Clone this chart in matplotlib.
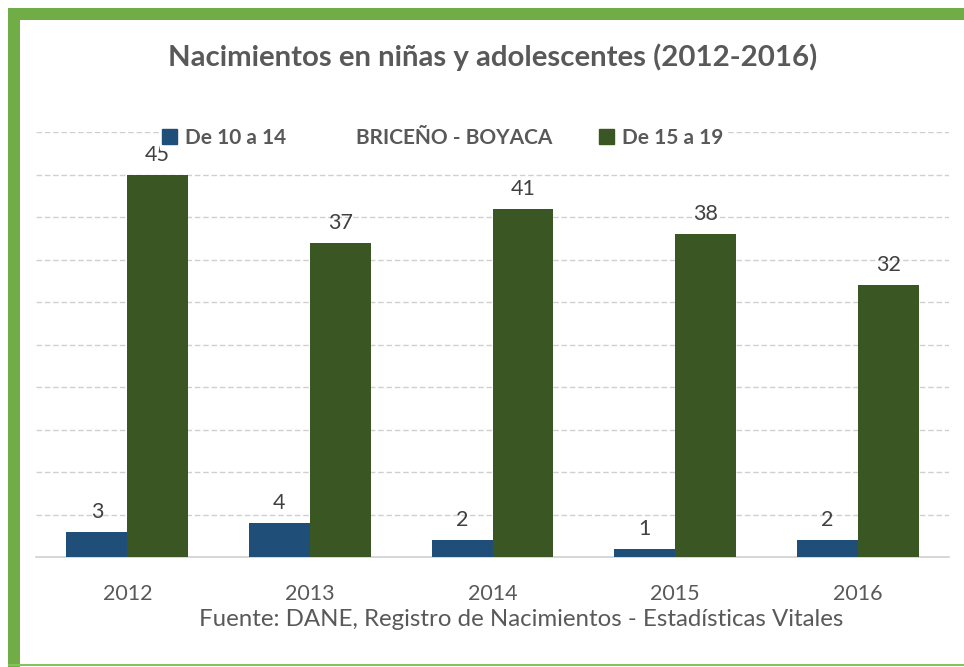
import matplotlib
matplotlib.use("Agg")
import matplotlib.pyplot as plt
from matplotlib.patches import Rectangle, Patch
import numpy as np

years = ["2012", "2013", "2014", "2015", "2016"]
serie_10_14 = [3, 4, 2, 1, 2]
serie_15_19 = [45, 37, 41, 38, 32]
labels = ["De 10 a 14", "BRICEÑO - BOYACA", "De 15 a 19"]
title = "Nacimientos en niñas y adolescentes (2012-2016)"
source = "Fuente: DANE, Registro de Nacimientos - Estadísticas Vitales"

BLUE = "#1F4E79"
GREEN = "#3A5723"
FRAME = "#70AD47"
TXT = "#595959"

plt.rcParams['font.family'] = ['Lato', 'DejaVu Sans']

W, H = 964, 667
fig = plt.figure(figsize=(W/100, H/100), dpi=100)

def px(x0, y0, w, h, **kw):
    fig.patches.append(Rectangle((x0/W, 1-(y0+h)/H), w/W, h/H, transform=fig.transFigure, **kw))

# frame
px(8, 8, W-8, 12, color=FRAME, lw=0)
px(8, 8, 12, H-8, color=FRAME, lw=0)
px(8, 664, W-8, 2, color="#84C35C", lw=0)

ax = fig.add_axes([36/W, 1-557/H, (949-36)/W, (557-132)/H])
x = np.arange(len(years))
bw = 1/3
b1 = ax.bar(x - bw/2, serie_10_14, bw, color=BLUE, zorder=3)
b2 = ax.bar(x + bw/2, serie_15_19, bw, color=GREEN, zorder=3)
for bars, vals in ((b1, serie_10_14), (b2, serie_15_19)):
    for r, v in zip(bars, vals):
        ax.annotate(str(v), (r.get_x() + r.get_width()/2, v), xytext=(0, 7),
                    textcoords="offset points", ha="center", va="bottom",
                    fontsize=15.5, color="#404040", zorder=4)

ax.set_xlim(-0.5, 4.5)
ax.set_ylim(0, 50)
ax.set_yticks(np.arange(5, 51, 5))
ax.yaxis.grid(True, color="#D0D0D0", ls=(0, (4, 2)), lw=1, zorder=0)
ax.tick_params(axis='y', left=False, labelleft=False)
ax.tick_params(axis='x', bottom=False, labelsize=15.5, colors=TXT, pad=16)
ax.set_xticks(x)
ax.set_xticklabels(years)
for s in ["top", "right", "left"]:
    ax.spines[s].set_visible(False)
ax.spines["bottom"].set_color("#D0D0D0")
ax.spines["bottom"].set_linewidth(1.2)

handles = [Patch(color=BLUE), Patch(color="none"), Patch(color=GREEN)]
leg = ax.legend(handles, labels, ncol=3, loc="center", bbox_to_anchor=(443/W, 1-138/H),
                bbox_transform=fig.transFigure, frameon=True, facecolor="white",
                edgecolor="none", framealpha=1, fancybox=False, handlelength=0.7, handleheight=0.7,
                handletextpad=0.4, columnspacing=2.25, borderpad=0.1,
                prop={'weight': 'bold', 'size': 15})
for t in leg.get_texts():
    t.set_color(TXT)
leg.set_zorder(5)

fig.text(493/W, 1-57/H, title, ha="center", va="center", fontsize=21.2,
         fontweight="bold", color=TXT)
fig.text(521/W, 1-620/H, source, ha="center", va="center", fontsize=17.3, color=TXT)

fig.savefig("out.png", dpi=100)
